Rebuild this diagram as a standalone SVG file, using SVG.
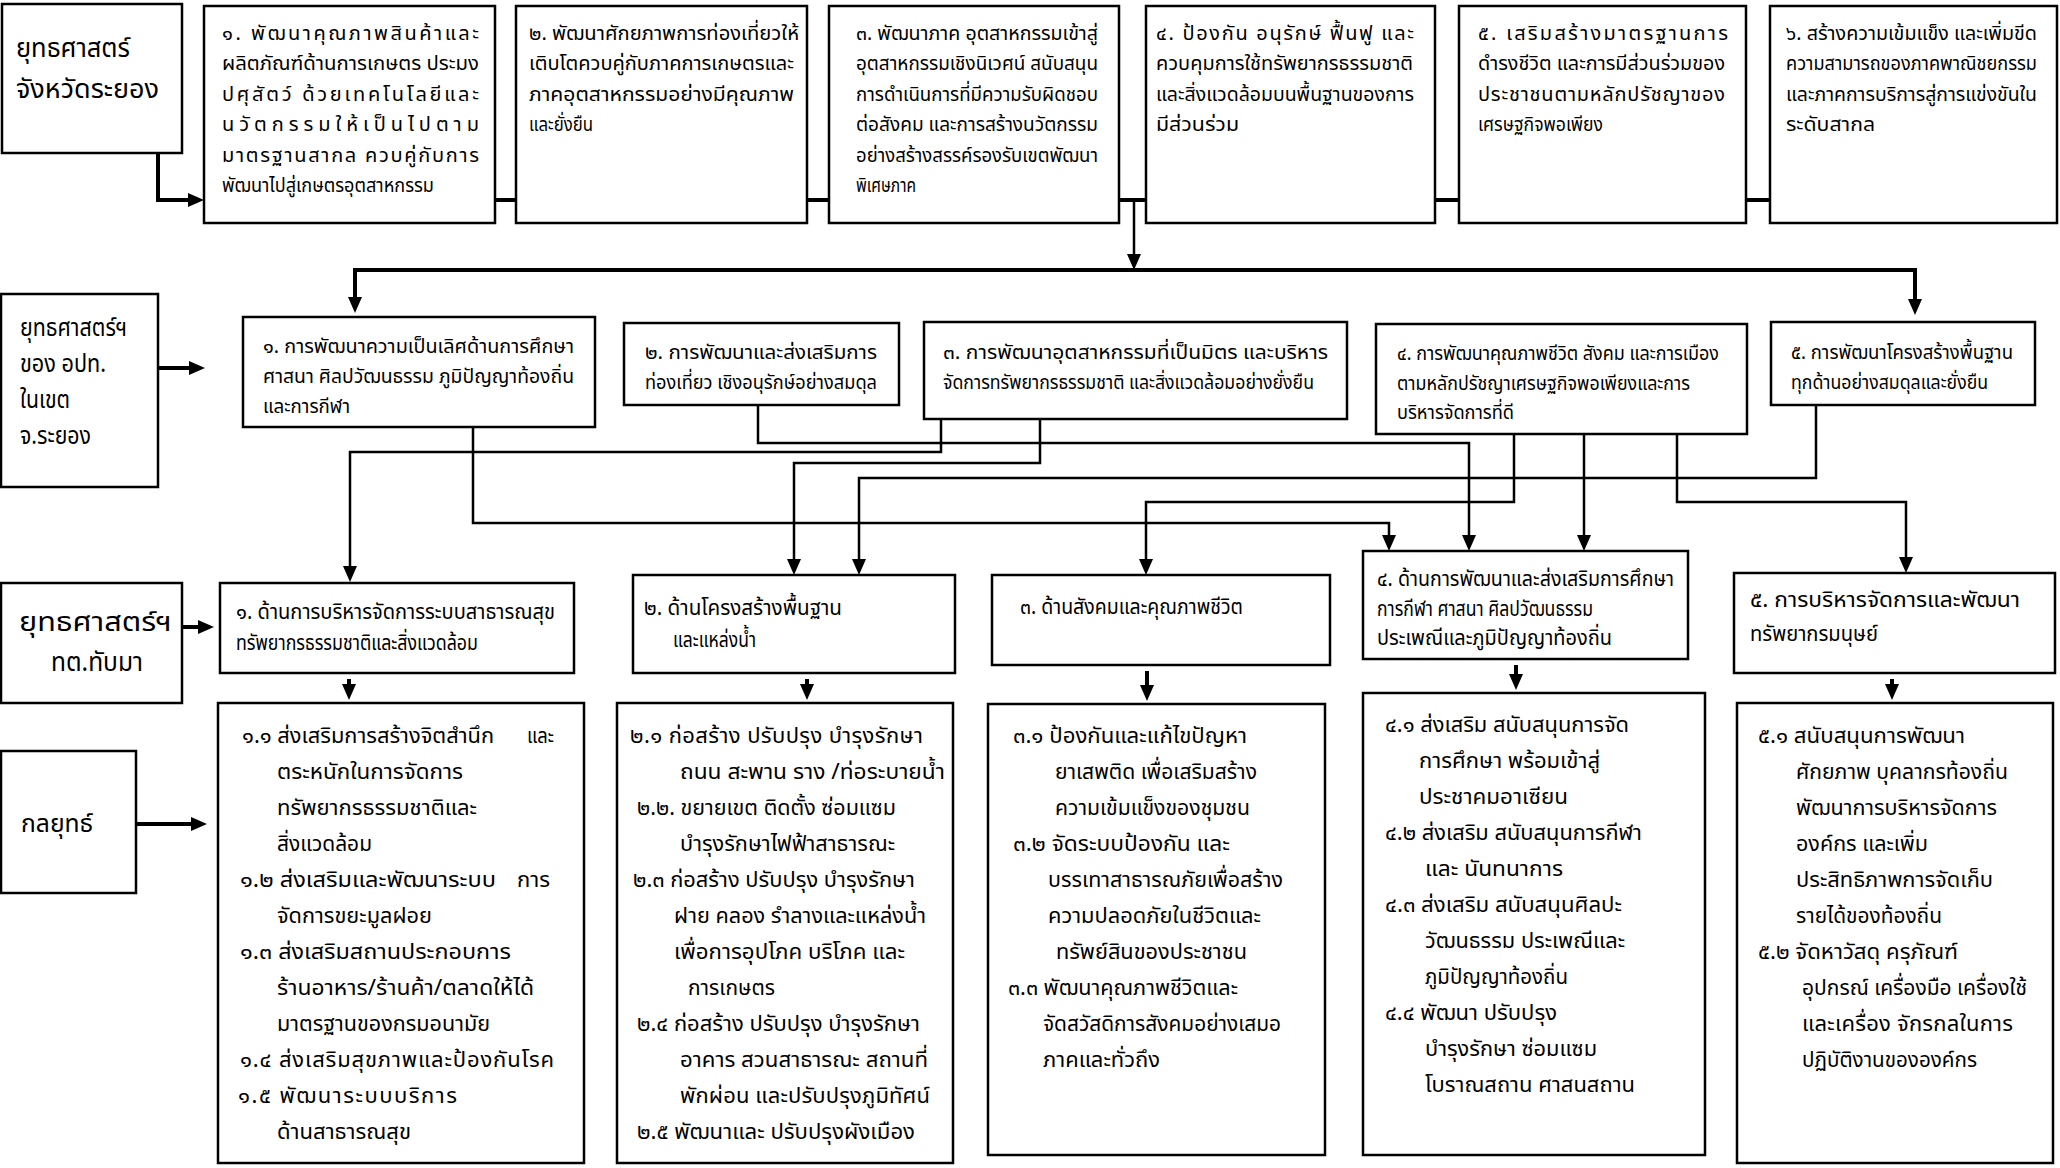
<svg xmlns="http://www.w3.org/2000/svg" width="2060" height="1168" viewBox="0 0 2060 1168">
<style>
text{font-family:"Noto Sans Thai","Noto Sans Thai Looped","Loma","Tahoma","Noto Sans","DejaVu Sans",sans-serif;fill:#000}
.box{fill:#fff;stroke:#000;stroke-width:2.5}
.r1{font-size:20px}
.r2{font-size:20px}
.r3{font-size:22px}
.r4{font-size:22px}
.lab{font-size:27px}
.lab2{font-size:25px}
.c{fill:none;stroke:#000;stroke-width:2.5}
.ct{fill:none;stroke:#000;stroke-width:4}
</style>
<defs>
<marker id="ah" viewBox="0 0 16 14" refX="4" refY="7" markerWidth="16" markerHeight="14" markerUnits="userSpaceOnUse" orient="auto">
<path d="M0,0 L16,7 L0,14 z" fill="#000"/>
</marker>
</defs>
<rect width="2060" height="1168" fill="#fff"/>

<g id="connectors">
<path class="ct" d="M158,153 V200 H192" marker-end="url(#ah)"/>
<path class="ct" d="M495,200 H516 M807,200 H829 M1119,200 H1146 M1435,200 H1459 M1746,200 H1770"/>
<path class="c" d="M1134,200 V258" marker-end="url(#ah)"/>
<path class="ct" d="M1134,270 H355 V301" marker-end="url(#ah)"/>
<path class="ct" d="M1134,270 H1915 V303" marker-end="url(#ah)"/>
<path class="ct" d="M158,368 H193" marker-end="url(#ah)"/>
<path class="c" d="M473,427 V523 H1389 V539" marker-end="url(#ah)"/>
<path class="c" d="M758,405 V443 H1469 V539" marker-end="url(#ah)"/>
<path class="c" d="M941,419 V452 H350 V570" marker-end="url(#ah)"/>
<path class="c" d="M1040,419 V463 H794 V563" marker-end="url(#ah)"/>
<path class="c" d="M1816,405 V478 H859 V563" marker-end="url(#ah)"/>
<path class="c" d="M1514,434 V502 H1146 V563" marker-end="url(#ah)"/>
<path class="c" d="M1584,434 V539" marker-end="url(#ah)"/>
<path class="c" d="M1677,434 V502 H1906 V561" marker-end="url(#ah)"/>
<path class="ct" d="M182,627 H202" marker-end="url(#ah)"/>
<path class="ct" d="M349,679 V688" marker-end="url(#ah)"/>
<path class="ct" d="M807,679 V688" marker-end="url(#ah)"/>
<path class="ct" d="M1147,671 V689" marker-end="url(#ah)"/>
<path class="ct" d="M1516,665 V678" marker-end="url(#ah)"/>
<path class="ct" d="M1892,679 V688" marker-end="url(#ah)"/>
<path class="ct" d="M136,824 H195" marker-end="url(#ah)"/>
</g>

<g id="province">
<rect class="box" x="2" y="4" width="180" height="149"/>
<text class="lab" x="16" y="57" textLength="114" lengthAdjust="spacingAndGlyphs">ยุทธศาสตร์</text>
<text class="lab" x="16" y="98" textLength="143" lengthAdjust="spacingAndGlyphs">จังหวัดระยอง</text>
</g>

<g id="p1">
<rect class="box" x="204" y="6" width="291" height="217"/>
<text class="r1" x="222" y="40" textLength="257" lengthAdjust="spacing">๑. พัฒนาคุณภาพสินค้าและ</text>
<text class="r1" x="222" y="70" textLength="257" lengthAdjust="spacingAndGlyphs">ผลิตภัณฑ์ด้านการเกษตร ประมง</text>
<text class="r1" x="222" y="101" textLength="257" lengthAdjust="spacing">ปศุสัตว์ ด้วยเทคโนโลยีและ</text>
<text class="r1" x="222" y="131" textLength="257" lengthAdjust="spacing">นวัตกรรมให้เป็นไปตาม</text>
<text class="r1" x="222" y="162" textLength="257" lengthAdjust="spacing">มาตรฐานสากล ควบคู่กับการ</text>
<text class="r1" x="222" y="192" textLength="212" lengthAdjust="spacingAndGlyphs">พัฒนาไปสู่เกษตรอุตสาหกรรม</text>
</g>

<g id="p2">
<rect class="box" x="516" y="6" width="291" height="217"/>
<text class="r1" x="529" y="40" textLength="270" lengthAdjust="spacingAndGlyphs">๒. พัฒนาศักยภาพการท่องเที่ยวให้</text>
<text class="r1" x="529" y="70" textLength="265" lengthAdjust="spacingAndGlyphs">เติบโตควบคู่กับภาคการเกษตรและ</text>
<text class="r1" x="529" y="101" textLength="265" lengthAdjust="spacingAndGlyphs">ภาคอุตสาหกรรมอย่างมีคุณภาพ</text>
<text class="r1" x="529" y="131" textLength="64" lengthAdjust="spacingAndGlyphs">และยั่งยืน</text>
</g>

<g id="p3">
<rect class="box" x="829" y="6" width="290" height="217"/>
<text class="r1" x="856" y="40" textLength="242" lengthAdjust="spacingAndGlyphs">๓. พัฒนาภาค อุตสาหกรรมเข้าสู่</text>
<text class="r1" x="856" y="70" textLength="242" lengthAdjust="spacingAndGlyphs">อุตสาหกรรมเชิงนิเวศน์ สนับสนุน</text>
<text class="r1" x="856" y="101" textLength="242" lengthAdjust="spacingAndGlyphs">การดำเนินการที่มีความรับผิดชอบ</text>
<text class="r1" x="856" y="131" textLength="242" lengthAdjust="spacingAndGlyphs">ต่อสังคม และการสร้างนวัตกรรม</text>
<text class="r1" x="856" y="162" textLength="242" lengthAdjust="spacingAndGlyphs">อย่างสร้างสรรค์รองรับเขตพัฒนา</text>
<text class="r1" x="856" y="192" textLength="60" lengthAdjust="spacingAndGlyphs">พิเศษภาค</text>
</g>

<g id="p4">
<rect class="box" x="1146" y="6" width="289" height="217"/>
<text class="r1" x="1156" y="40" textLength="258" lengthAdjust="spacing">๔. ป้องกัน อนุรักษ์ ฟื้นฟู และ</text>
<text class="r1" x="1156" y="70" textLength="257" lengthAdjust="spacingAndGlyphs">ควบคุมการใช้ทรัพยากรธรรมชาติ</text>
<text class="r1" x="1156" y="101" textLength="258" lengthAdjust="spacingAndGlyphs">และสิ่งแวดล้อมบนพื้นฐานของการ</text>
<text class="r1" x="1156" y="131" textLength="83" lengthAdjust="spacingAndGlyphs">มีส่วนร่วม</text>
</g>

<g id="p5">
<rect class="box" x="1459" y="6" width="287" height="217"/>
<text class="r1" x="1478" y="40" textLength="250" lengthAdjust="spacing">๕. เสริมสร้างมาตรฐานการ</text>
<text class="r1" x="1478" y="70" textLength="247" lengthAdjust="spacingAndGlyphs">ดำรงชีวิต และการมีส่วนร่วมของ</text>
<text class="r1" x="1478" y="101" textLength="247" lengthAdjust="spacing">ประชาชนตามหลักปรัชญาของ</text>
<text class="r1" x="1478" y="131" textLength="125" lengthAdjust="spacingAndGlyphs">เศรษฐกิจพอเพียง</text>
</g>

<g id="p6">
<rect class="box" x="1770" y="6" width="287" height="217"/>
<text class="r1" x="1786" y="40" textLength="251" lengthAdjust="spacingAndGlyphs">๖. สร้างความเข้มแข็ง และเพิ่มขีด</text>
<text class="r1" x="1786" y="70" textLength="251" lengthAdjust="spacingAndGlyphs">ความสามารถของภาคพาณิชยกรรม</text>
<text class="r1" x="1786" y="101" textLength="251" lengthAdjust="spacingAndGlyphs">และภาคการบริการสู่การแข่งขันใน</text>
<text class="r1" x="1786" y="131" textLength="89" lengthAdjust="spacingAndGlyphs">ระดับสากล</text>
</g>

<g id="lao">
<rect class="box" x="1" y="294" width="157" height="193"/>
<text class="lab2" x="20" y="336" textLength="107" lengthAdjust="spacingAndGlyphs">ยุทธศาสตร์ฯ</text>
<text class="lab2" x="20" y="372" textLength="86" lengthAdjust="spacingAndGlyphs">ของ อปท.</text>
<text class="lab2" x="20" y="408" textLength="50" lengthAdjust="spacingAndGlyphs">ในเขต</text>
<text class="lab2" x="20" y="444" textLength="71" lengthAdjust="spacingAndGlyphs">จ.ระยอง</text>
</g>

<g id="l1">
<rect class="box" x="243" y="317" width="352" height="110"/>
<text class="r2" x="263" y="353" textLength="311" lengthAdjust="spacingAndGlyphs">๑. การพัฒนาความเป็นเลิศด้านการศึกษา</text>
<text class="r2" x="263" y="383" textLength="311" lengthAdjust="spacingAndGlyphs">ศาสนา ศิลปวัฒนธรรม ภูมิปัญญาท้องถิ่น</text>
<text class="r2" x="263" y="413" textLength="87" lengthAdjust="spacingAndGlyphs">และการกีฬา</text>
</g>

<g id="l2">
<rect class="box" x="624" y="323" width="275" height="82"/>
<text class="r2" x="645" y="359" textLength="232" lengthAdjust="spacingAndGlyphs">๒. การพัฒนาและส่งเสริมการ</text>
<text class="r2" x="645" y="389" textLength="232" lengthAdjust="spacingAndGlyphs">ท่องเที่ยว เชิงอนุรักษ์อย่างสมดุล</text>
</g>

<g id="l3">
<rect class="box" x="924" y="322" width="423" height="97"/>
<text class="r2" x="943" y="359" textLength="385" lengthAdjust="spacingAndGlyphs">๓. การพัฒนาอุตสาหกรรมที่เป็นมิตร และบริหาร</text>
<text class="r2" x="943" y="389" textLength="371" lengthAdjust="spacingAndGlyphs">จัดการทรัพยากรธรรมชาติ และสิ่งแวดล้อมอย่างยั่งยืน</text>
</g>

<g id="l4">
<rect class="box" x="1376" y="324" width="371" height="110"/>
<text class="r2" x="1397" y="360" textLength="322" lengthAdjust="spacingAndGlyphs">๔. การพัฒนาคุณภาพชีวิต สังคม และการเมือง</text>
<text class="r2" x="1397" y="390" textLength="293" lengthAdjust="spacingAndGlyphs">ตามหลักปรัชญาเศรษฐกิจพอเพียงและการ</text>
<text class="r2" x="1397" y="419" textLength="117" lengthAdjust="spacingAndGlyphs">บริหารจัดการที่ดี</text>
</g>

<g id="l5">
<rect class="box" x="1771" y="322" width="264" height="83"/>
<text class="r2" x="1791" y="359" textLength="222" lengthAdjust="spacingAndGlyphs">๕. การพัฒนาโครงสร้างพื้นฐาน</text>
<text class="r2" x="1791" y="389" textLength="197" lengthAdjust="spacingAndGlyphs">ทุกด้านอย่างสมดุลและยั่งยืน</text>
</g>

<g id="tambon">
<rect class="box" x="1" y="583" width="181" height="120"/>
<text class="lab" x="19" y="631" textLength="153" lengthAdjust="spacingAndGlyphs">ยุทธศาสตร์ฯ</text>
<text class="lab" x="51" y="671" textLength="92" lengthAdjust="spacingAndGlyphs">ทต.ทับมา</text>
</g>

<g id="s1">
<rect class="box" x="220" y="583" width="354" height="90"/>
<text class="r3" x="236" y="619" textLength="319" lengthAdjust="spacingAndGlyphs">๑. ด้านการบริหารจัดการระบบสาธารณสุข</text>
<text class="r3" x="236" y="650" textLength="242" lengthAdjust="spacingAndGlyphs">ทรัพยากรธรรมชาติและสิ่งแวดล้อม</text>
</g>

<g id="s2">
<rect class="box" x="633" y="575" width="322" height="98"/>
<text class="r3" x="644" y="615" textLength="198" lengthAdjust="spacingAndGlyphs">๒. ด้านโครงสร้างพื้นฐาน</text>
<text class="r3" x="673" y="647" textLength="83" lengthAdjust="spacingAndGlyphs">และแหล่งน้ำ</text>
</g>

<g id="s3">
<rect class="box" x="992" y="575" width="338" height="90"/>
<text class="r3" x="1020" y="614" textLength="223" lengthAdjust="spacingAndGlyphs">๓. ด้านสังคมและคุณภาพชีวิต</text>
</g>

<g id="s4">
<rect class="box" x="1363" y="551" width="325" height="108"/>
<text class="r3" x="1377" y="586" textLength="297" lengthAdjust="spacingAndGlyphs">๔. ด้านการพัฒนาและส่งเสริมการศึกษา</text>
<text class="r3" x="1377" y="616" textLength="216" lengthAdjust="spacingAndGlyphs">การกีฬา ศาสนา ศิลปวัฒนธรรม</text>
<text class="r3" x="1377" y="645" textLength="235" lengthAdjust="spacingAndGlyphs">ประเพณีและภูมิปัญญาท้องถิ่น</text>
</g>

<g id="s5">
<rect class="box" x="1734" y="573" width="321" height="100"/>
<text class="r3" x="1750" y="607" textLength="270" lengthAdjust="spacingAndGlyphs">๕. การบริหารจัดการและพัฒนา</text>
<text class="r3" x="1750" y="641" textLength="128" lengthAdjust="spacingAndGlyphs">ทรัพยากรมนุษย์</text>
</g>

<g id="strategy">
<rect class="box" x="1" y="751" width="135" height="142"/>
<text class="lab2" x="21" y="832" font-size="28" textLength="72" lengthAdjust="spacingAndGlyphs">กลยุทธ์</text>
</g>

<g id="k1">
<rect class="box" x="218" y="703" width="366" height="460"/>
<text class="r4" x="242" y="743" textLength="252" lengthAdjust="spacingAndGlyphs">๑.๑ ส่งเสริมการสร้างจิตสำนึก</text>
<text class="r4" x="527" y="743" textLength="27" lengthAdjust="spacingAndGlyphs">และ</text>
<text class="r4" x="277" y="779" textLength="186" lengthAdjust="spacingAndGlyphs">ตระหนักในการจัดการ</text>
<text class="r4" x="277" y="815" textLength="200" lengthAdjust="spacingAndGlyphs">ทรัพยากรธรรมชาติและ</text>
<text class="r4" x="277" y="851" textLength="95" lengthAdjust="spacingAndGlyphs">สิ่งแวดล้อม</text>
<text class="r4" x="240" y="887" textLength="256" lengthAdjust="spacingAndGlyphs">๑.๒  ส่งเสริมและพัฒนาระบบ</text>
<text class="r4" x="517" y="887" textLength="33" lengthAdjust="spacingAndGlyphs">การ</text>
<text class="r4" x="277" y="923" textLength="155" lengthAdjust="spacingAndGlyphs">จัดการขยะมูลฝอย</text>
<text class="r4" x="240" y="959" textLength="271" lengthAdjust="spacingAndGlyphs">๑.๓  ส่งเสริมสถานประกอบการ</text>
<text class="r4" x="277" y="995" textLength="257" lengthAdjust="spacingAndGlyphs">ร้านอาหาร/ร้านค้า/ตลาดให้ได้</text>
<text class="r4" x="277" y="1031" textLength="213" lengthAdjust="spacingAndGlyphs">มาตรฐานของกรมอนามัย</text>
<text class="r4" x="240" y="1067" textLength="314" lengthAdjust="spacing">๑.๔   ส่งเสริมสุขภาพและป้องกันโรค</text>
<text class="r4" x="238" y="1103" textLength="219" lengthAdjust="spacing">๑.๕   พัฒนาระบบบริการ</text>
<text class="r4" x="277" y="1139" textLength="134" lengthAdjust="spacingAndGlyphs">ด้านสาธารณสุข</text>
</g>

<g id="k2">
<rect class="box" x="617" y="703" width="336" height="460"/>
<text class="r4" x="630" y="743" textLength="293" lengthAdjust="spacing">๒.๑ ก่อสร้าง  ปรับปรุง  บำรุงรักษา</text>
<text class="r4" x="680" y="779" textLength="265" lengthAdjust="spacingAndGlyphs">ถนน สะพาน ราง /ท่อระบายน้ำ</text>
<text class="r4" x="637" y="815" textLength="259" lengthAdjust="spacingAndGlyphs">๒.๒. ขยายเขต  ติดตั้ง ซ่อมแซม</text>
<text class="r4" x="680" y="851" textLength="215" lengthAdjust="spacingAndGlyphs">บำรุงรักษาไฟฟ้าสาธารณะ</text>
<text class="r4" x="633" y="887" textLength="282" lengthAdjust="spacingAndGlyphs">๒.๓ ก่อสร้าง ปรับปรุง บำรุงรักษา</text>
<text class="r4" x="674" y="923" textLength="252" lengthAdjust="spacingAndGlyphs">ฝาย คลอง รำลางและแหล่งน้ำ</text>
<text class="r4" x="674" y="959" textLength="231" lengthAdjust="spacingAndGlyphs">เพื่อการอุปโภค บริโภค และ</text>
<text class="r4" x="688" y="995" textLength="87" lengthAdjust="spacingAndGlyphs">การเกษตร</text>
<text class="r4" x="637" y="1031" textLength="283" lengthAdjust="spacingAndGlyphs">๒.๔ ก่อสร้าง ปรับปรุง บำรุงรักษา</text>
<text class="r4" x="680" y="1067" textLength="248" lengthAdjust="spacingAndGlyphs">อาคาร สวนสาธารณะ สถานที่</text>
<text class="r4" x="680" y="1103" textLength="250" lengthAdjust="spacing">พักผ่อน  และปรับปรุงภูมิทัศน์</text>
<text class="r4" x="637" y="1139" textLength="278" lengthAdjust="spacingAndGlyphs">๒.๕  พัฒนาและ ปรับปรุงผังเมือง</text>
</g>

<g id="k3">
<rect class="box" x="988" y="704" width="337" height="451"/>
<text class="r4" x="1013" y="743" textLength="234" lengthAdjust="spacingAndGlyphs">๓.๑ ป้องกันและแก้ไขปัญหา</text>
<text class="r4" x="1055" y="779" textLength="202" lengthAdjust="spacingAndGlyphs">ยาเสพติด เพื่อเสริมสร้าง</text>
<text class="r4" x="1055" y="815" textLength="195" lengthAdjust="spacingAndGlyphs">ความเข้มแข็งของชุมชน</text>
<text class="r4" x="1013" y="851" textLength="217" lengthAdjust="spacingAndGlyphs">๓.๒ จัดระบบป้องกัน และ</text>
<text class="r4" x="1048" y="887" textLength="235" lengthAdjust="spacingAndGlyphs">บรรเทาสาธารณภัยเพื่อสร้าง</text>
<text class="r4" x="1048" y="923" textLength="213" lengthAdjust="spacingAndGlyphs">ความปลอดภัยในชีวิตและ</text>
<text class="r4" x="1056" y="959" textLength="191" lengthAdjust="spacingAndGlyphs">ทรัพย์สินของประชาชน</text>
<text class="r4" x="1008" y="995" textLength="230" lengthAdjust="spacingAndGlyphs">๓.๓ พัฒนาคุณภาพชีวิตและ</text>
<text class="r4" x="1043" y="1031" textLength="238" lengthAdjust="spacingAndGlyphs">จัดสวัสดิการสังคมอย่างเสมอ</text>
<text class="r4" x="1043" y="1067" textLength="117" lengthAdjust="spacingAndGlyphs">ภาคและทั่วถึง</text>
</g>

<g id="k4">
<rect class="box" x="1363" y="693" width="342" height="462"/>
<text class="r4" x="1385" y="732" textLength="244" lengthAdjust="spacingAndGlyphs">๔.๑ ส่งเสริม สนับสนุนการจัด</text>
<text class="r4" x="1419" y="768" textLength="181" lengthAdjust="spacingAndGlyphs">การศึกษา พร้อมเข้าสู่</text>
<text class="r4" x="1419" y="804" textLength="149" lengthAdjust="spacingAndGlyphs">ประชาคมอาเซียน</text>
<text class="r4" x="1385" y="840" textLength="257" lengthAdjust="spacingAndGlyphs">๔.๒ ส่งเสริม สนับสนุนการกีฬา</text>
<text class="r4" x="1425" y="876" textLength="138" lengthAdjust="spacingAndGlyphs">และ นันทนาการ</text>
<text class="r4" x="1385" y="912" textLength="237" lengthAdjust="spacingAndGlyphs">๔.๓ ส่งเสริม สนับสนุนศิลปะ</text>
<text class="r4" x="1425" y="948" textLength="200" lengthAdjust="spacingAndGlyphs">วัฒนธรรม ประเพณีและ</text>
<text class="r4" x="1425" y="984" textLength="143" lengthAdjust="spacingAndGlyphs">ภูมิปัญญาท้องถิ่น</text>
<text class="r4" x="1385" y="1020" textLength="172" lengthAdjust="spacingAndGlyphs">๔.๔ พัฒนา ปรับปรุง</text>
<text class="r4" x="1425" y="1056" textLength="172" lengthAdjust="spacingAndGlyphs">บำรุงรักษา ซ่อมแซม</text>
<text class="r4" x="1425" y="1092" textLength="210" lengthAdjust="spacingAndGlyphs">โบราณสถาน ศาสนสถาน</text>
</g>

<g id="k5">
<rect class="box" x="1737" y="703" width="316" height="460"/>
<text class="r4" x="1758" y="743" textLength="207" lengthAdjust="spacingAndGlyphs">๕.๑ สนับสนุนการพัฒนา</text>
<text class="r4" x="1796" y="779" textLength="212" lengthAdjust="spacingAndGlyphs">ศักยภาพ บุคลากรท้องถิ่น</text>
<text class="r4" x="1796" y="815" textLength="201" lengthAdjust="spacingAndGlyphs">พัฒนาการบริหารจัดการ</text>
<text class="r4" x="1796" y="851" textLength="132" lengthAdjust="spacingAndGlyphs">องค์กร และเพิ่ม</text>
<text class="r4" x="1796" y="887" textLength="197" lengthAdjust="spacingAndGlyphs">ประสิทธิภาพการจัดเก็บ</text>
<text class="r4" x="1796" y="923" textLength="146" lengthAdjust="spacingAndGlyphs">รายได้ของท้องถิ่น</text>
<text class="r4" x="1758" y="959" textLength="200" lengthAdjust="spacingAndGlyphs">๕.๒ จัดหาวัสดุ ครุภัณฑ์</text>
<text class="r4" x="1802" y="995" textLength="225" lengthAdjust="spacingAndGlyphs">อุปกรณ์ เครื่องมือ เครื่องใช้</text>
<text class="r4" x="1802" y="1031" textLength="211" lengthAdjust="spacing">และเครื่อง  จักรกลในการ</text>
<text class="r4" x="1802" y="1067" textLength="175" lengthAdjust="spacingAndGlyphs">ปฏิบัติงานขององค์กร</text>
</g>
</svg>
